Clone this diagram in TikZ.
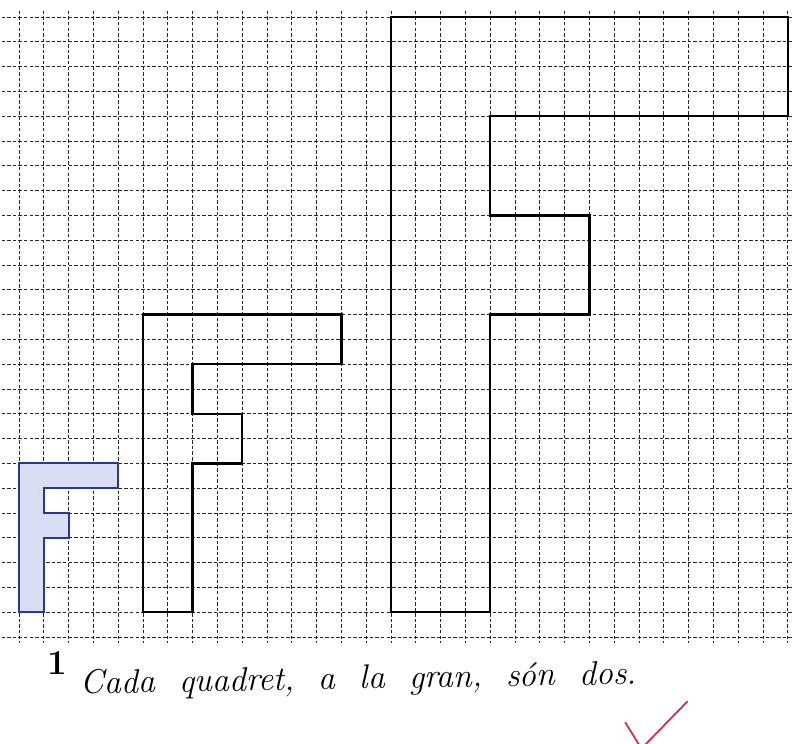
\documentclass[tikz,border=0pt]{standalone}
\usepackage{fontspec}
\begin{document}
\begin{tikzpicture}[x=0.5cm,y=-0.5cm,
  gridline/.style={draw=black!85,line width=0.5pt,dash pattern=on 2pt off 1.2pt},
  fshape/.style={draw=black,line width=1.3pt,line join=miter},
  smallf/.style={draw={rgb,255:red,40;green,55;blue,160},line width=1.2pt,fill={rgb,255:red,218;green,222;blue,245}},
  checkmark/.style={draw={rgb,255:red,215;green,40;blue,75},line width=1pt,line cap=round,line join=round}]
\useasboundingbox (-0.766,-0.685) rectangle (31.21,29.31);
% grid
\foreach \k in {0,...,25} \draw[gridline] (-0.7,\k) -- (31.21,\k);
\foreach \k in {0,...,31} \draw[gridline] (\k,-0.25) -- (\k,25.25);
% small F
\draw[smallf] (0,18) -- (4,18) -- (4,19) -- (1,19) -- (1,20) -- (2,20) -- (2,21) -- (1,21) -- (1,24) -- (0,24) -- cycle;
% medium F
\draw[fshape] (5,12) -- (13,12) -- (13,14) -- (7,14) -- (7,16) -- (9,16) -- (9,18) -- (7,18) -- (7,24) -- (5,24) -- cycle;
% large F
\draw[fshape] (15,0) -- (31,0) -- (31,4) -- (19,4) -- (19,8) -- (23,8) -- (23,12) -- (19,12) -- (19,24) -- (15,24) -- cycle;
% texts
\node[font=\fontsize{20}{22}\selectfont\bfseries] (num) at (1.55,26.05) {1};
\node[font=\fontsize{19.5}{22}\selectfont\itshape,rotate=1] (note) at (13.7,26.75) {Cada \ quadret, \ a \ la \ gran, \ són \ dos.};
% check mark
\coordinate (c1) at (24.45,28.45);
\coordinate (c2) at (25.1,29.5);
\coordinate (c3) at (26.95,27.6);
\draw[checkmark] (c1) -- (c2) -- (c3);
\end{tikzpicture}
\end{document}
